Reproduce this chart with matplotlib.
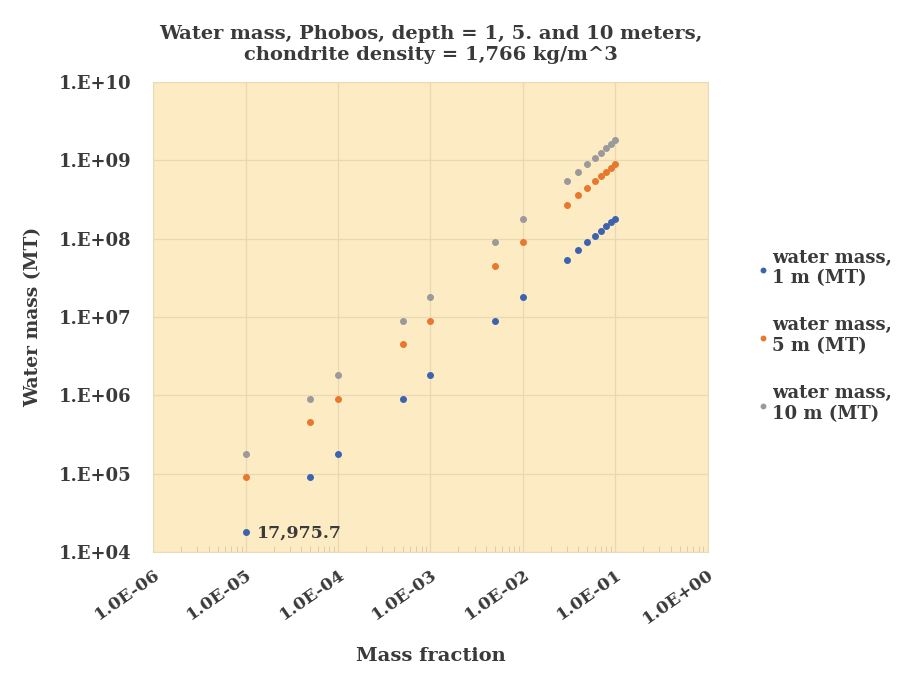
import numpy as np
import matplotlib
matplotlib.use("Agg")
import matplotlib.pyplot as plt
from matplotlib.ticker import FixedLocator, LogLocator, NullFormatter

# mass fraction values
fraction = [1e-5, 5e-5, 1e-4, 5e-4, 1e-3, 5e-3, 1e-2,
            0.03, 0.04, 0.05, 0.06, 0.07, 0.08, 0.09, 0.10]

# water mass (MT) at each depth
mass_1m = [17975.7, 89878.5, 179757, 898785, 1797570, 8987850, 17975700,
           53927100, 71902800, 89878500, 107854200, 125829900, 143805600, 161781300, 179757000]
mass_5m = [89878.5, 449392.5, 898785, 4493925, 8987850, 44939250, 89878500,
           269635500, 359514000, 449392500, 539271000, 629149500, 719028000, 808906500, 898785000]
mass_10m = [179757, 898785, 1797570, 8987850, 17975700, 89878500, 179757000,
            539271000, 719028000, 898785000, 1078542000, 1258299000, 1438056000, 1617813000, 1797570000]

x_ticks = [1e-6, 1e-5, 1e-4, 1e-3, 1e-2, 1e-1, 1e0]
x_labels = ["1.0E-06", "1.0E-05", "1.0E-04", "1.0E-03", "1.0E-02", "1.0E-01", "1.0E+00"]
y_ticks = [1e4, 1e5, 1e6, 1e7, 1e8, 1e9, 1e10]
y_labels = ["1.E+04", "1.E+05", "1.E+06", "1.E+07", "1.E+08", "1.E+09", "1.E+10"]

txt = "#3a3a3a"
plt.rcParams['font.family'] = ['DejaVu Serif']
plt.rcParams['font.weight'] = 'bold'

fig = plt.figure(figsize=(9.13, 6.78), dpi=100)
ax = fig.add_axes([0.168, 0.186, 0.607, 0.693])
ax.set_facecolor("#fdebc4")

ax.scatter(fraction, mass_1m, s=16, color="#3d63b0", label="water mass,\n1 m (MT)", zorder=3)
ax.scatter(fraction, mass_5m, s=16, color="#e8782e", label="water mass,\n5 m (MT)", zorder=3)
ax.scatter(fraction, mass_10m, s=16, color="#9a9a9a", label="water mass,\n10 m (MT)", zorder=3)

ax.set_xscale("log")
ax.set_yscale("log")
ax.set_xlim(1e-6, 1e0)
ax.set_ylim(1e4, 1e10)
ax.xaxis.set_major_locator(FixedLocator(x_ticks))
ax.yaxis.set_major_locator(FixedLocator(y_ticks))
ax.set_xticklabels(x_labels, rotation=35, ha="right", rotation_mode="anchor", fontsize=12.5,
                   color=txt, fontweight="bold")
ax.set_yticklabels(y_labels, fontsize=13, color=txt, fontweight="bold")
ax.xaxis.set_minor_locator(LogLocator(base=10, subs=np.arange(2, 10), numticks=20))
ax.xaxis.set_minor_formatter(NullFormatter())
ax.yaxis.set_minor_locator(FixedLocator([]))
ax.tick_params(axis="x", which="minor", direction="in", length=4, color="#d8c8a8")
ax.tick_params(axis="x", which="major", length=0, pad=10)
ax.tick_params(axis="y", which="major", length=0, pad=16)

ax.grid(True, which="major", color="#e8d8b4", linewidth=0.9)
for s in ax.spines.values():
    s.set_color("#eadbb8")
ax.set_axisbelow(True)

ax.annotate("17,975.7", (fraction[0], mass_1m[0]), xytext=(8, -1), textcoords="offset points",
            va="center", ha="left", fontsize=12.5, color=txt, fontweight="bold")

ax.set_xlabel("Mass fraction", fontsize=14, color=txt, fontweight="bold", labelpad=14)
ax.set_ylabel("Water mass (MT)", fontsize=13.5, color=txt, fontweight="bold", labelpad=12)
ax.set_title("Water mass, Phobos, depth = 1, 5. and 10 meters,\nchondrite density = 1,766 kg/m^3",
             fontsize=14, color=txt, fontweight="bold", pad=16)

fig.legend(loc="center left", bbox_to_anchor=(0.81, 0.505), frameon=False,
           prop={"size": 13, "weight": "bold"}, labelcolor=txt, handletextpad=0.1,
           labelspacing=1.6, markerscale=0.8, handlelength=0.8)

fig.savefig("out.png", dpi=100, facecolor="white")
